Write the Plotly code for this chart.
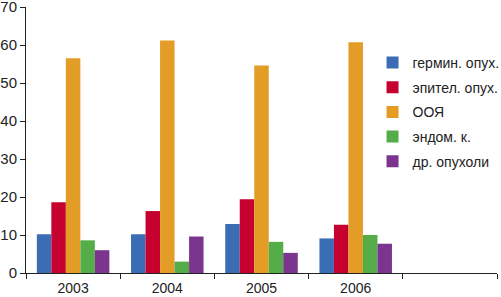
import plotly.graph_objects as go

categories = ["2003", "2004", "2005", "2006", " "]
series_names = ["гермин. опух.", "эпител. опух.", "ООЯ", "эндом. к.", "др. опухоли"]
germ = [10.2, 10.2, 12.9, 9.1]
epit = [18.6, 16.3, 19.4, 12.7]
ooya = [56.5, 61.2, 54.6, 60.7]
endom = [8.6, 3.0, 8.2, 10.0]
other = [6.0, 9.6, 5.3, 7.7]
colors = ["#3b6db4", "#c6002f", "#e39c26", "#55ad4a", "#7c358f"]

fig = go.Figure()
for i, (name, vals) in enumerate(zip(series_names, [germ, epit, ooya, endom, other])):
    fig.add_trace(go.Bar(
        x=categories[:4], y=vals, name=name, marker_color=colors[i],
        marker_line_width=0, legendgroup=f"g{i}",
    ))

fig.update_layout(
    width=501, height=297,
    margin=dict(l=26, r=4, t=7, b=24, autoexpand=False),
    paper_bgcolor="white", plot_bgcolor="white",
    barmode="group", bargap=0.23, bargroupgap=0,
    font=dict(family="Liberation Sans, Arial, sans-serif", size=14, color="#222"),
    legend=dict(
        x=1.016, xanchor="right", y=0.85, yanchor="top",
        font=dict(size=14, color="#222"),
        traceorder="grouped", tracegroupgap=3.5,
        bgcolor="rgba(0,0,0,0)", itemwidth=30,
    ),
    showlegend=True,
)
fig.update_xaxes(
    type="category", categoryorder="array", categoryarray=categories,
    range=[-0.5, 4.5], showline=True, linecolor="#222", linewidth=1,
    ticks="outside", tickson="boundaries", ticklen=5, tickcolor="#222",
    showgrid=False, zeroline=False, tickfont=dict(size=14),
    ticklabelstandoff=2,
)
fig.update_yaxes(
    range=[0, 70], dtick=10, showline=True, linecolor="#222", linewidth=1,
    ticks="outside", ticklen=5, tickcolor="#222", showgrid=False,
    zeroline=False, tickfont=dict(size=15), ticklabeloverflow="allow",
    ticklabelstandoff=0,
)

fig.write_html("out.html", config={"displayModeBar": False},
               post_script="document.body.style.margin='0';")
